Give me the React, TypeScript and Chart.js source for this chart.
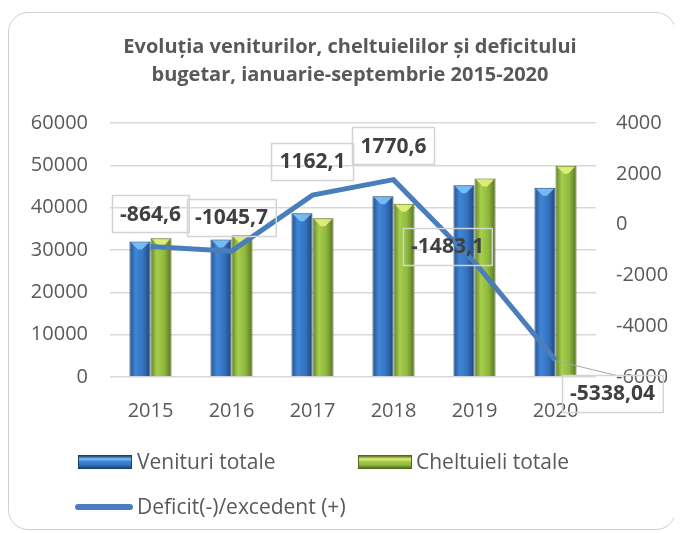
import React, { useEffect, useRef } from "react";
import { Chart, registerables } from "chart.js";

Chart.register(...registerables);

const YEARS = ["2015", "2016", "2017", "2018", "2019", "2020"];
const VENITURI = [32000, 32500, 38700, 42700, 45300, 44700];
const CHELTUIELI = [32800, 33500, 37500, 40900, 46900, 49900];
const DEFICIT = [-864.6, -1045.7, 1162.1, 1770.6, -1483.1, -5338.04];
const DEFICIT_LABELS = ["-864,6", "-1045,7", "1162,1", "1770,6", "-1483,1", "-5338,04"];
const TITLE_LINES = [
  "Evoluția veniturilor, cheltuielilor și deficitului",
  "bugetar, ianuarie-septembrie 2015-2020",
];
const SERIES_NAMES = ["Venituri totale", "Cheltuieli totale", "Deficit(-)/excedent (+)"];

// label placement (style config): offset of label box centre from the point
const LABEL_OFFSETS = [
  { dx: 0, dy: -33, leader: false },
  { dx: 0, dy: -34, leader: false },
  { dx: 0, dy: -34, leader: false },
  { dx: 0, dy: -34, leader: false },
  { dx: -27, dy: -16, leader: false },
  { dx: 57, dy: 33, leader: true },
];

const CAT_PCT = 0.52;
const FONT = "'Open Sans', 'Noto Sans', sans-serif";

const BLUE_STOPS: [number, string][] = [
  [0, "#24518c"],
  [0.3, "#3f86d8"],
  [0.65, "#3573c0"],
  [1, "#1f4678"],
];
const GREEN_STOPS: [number, string][] = [
  [0, "#62802a"],
  [0.3, "#a6cf4c"],
  [0.65, "#8fb83f"],
  [1, "#577222"],
];

function barGradient(stops: [number, string][], side: number) {
  return (c: any) => {
    const chart = c.chart;
    const xs = chart.scales && chart.scales.x;
    if (!xs || c.dataIndex === undefined || !chart.ctx) return stops[1][1];
    const cx = xs.getPixelForValue(c.dataIndex);
    const w = ((xs.right - xs.left) / YEARS.length) * CAT_PCT / 2;
    const x0 = side === 0 ? cx - w : cx;
    if (!isFinite(x0) || !isFinite(w) || w <= 0) return stops[1][1];
    const g = chart.ctx.createLinearGradient(x0, 0, x0 + w, 0);
    stops.forEach(([o, col]) => g.addColorStop(o, col));
    return g;
  };
}

const titlePlugin = {
  id: "titleLines",
  afterDraw(chart: any) {
    const ctx = chart.ctx;
    ctx.save();
    ctx.font = `bold 20px ${FONT}`;
    ctx.fillStyle = "#595959";
    ctx.textAlign = "center";
    ctx.textBaseline = "middle";
    const cx = 341;
    ctx.fillText(TITLE_LINES[0], cx, 34);
    ctx.fillText(TITLE_LINES[1], cx, 62);
    ctx.restore();
  },
};

const bevelPlugin = {
  id: "bevel",
  afterDatasetDraw(chart: any, args: any) {
    const meta = args.meta;
    if (meta.type !== "bar") return;
    const ctx = chart.ctx;
    const light = meta.index === 0 ? "#7cc2f7" : "#e4f27a";
    ctx.save();
    meta.data.forEach((bar: any) => {
      const { x, y, width } = bar.getProps(["x", "y", "width"], true);
      const l = x - width / 2 + 1.5;
      const r = x + width / 2 - 1.5;
      ctx.beginPath();
      ctx.moveTo(l, y + 1);
      ctx.lineTo(r, y + 1);
      ctx.lineTo(x + 2, y + 8);
      ctx.lineTo(x - 2, y + 8);
      ctx.closePath();
      ctx.fillStyle = light;
      ctx.globalAlpha = 0.9;
      ctx.fill();
    });
    ctx.restore();
  },
};

const labelPlugin = {
  id: "deficitLabels",
  afterDatasetsDraw(chart: any) {
    const meta = chart.getDatasetMeta(2);
    const ctx = chart.ctx;
    ctx.save();
    ctx.font = `bold 21px ${FONT}`;
    ctx.textAlign = "center";
    ctx.textBaseline = "middle";
    meta.data.forEach((pt: any, i: number) => {
      const off = LABEL_OFFSETS[i];
      const text = DEFICIT_LABELS[i];
      const cx = pt.x + off.dx;
      const cy = pt.y + off.dy;
      const tw = ctx.measureText(text).width;
      const bw = tw + 16;
      const bh = 37;
      const bx = Math.round(cx - bw / 2) + 0.5;
      const by = Math.round(cy - bh / 2) + 0.5;
      if (off.leader) {
        ctx.strokeStyle = "#a6a6a6";
        ctx.lineWidth = 1;
        ctx.beginPath();
        ctx.moveTo(pt.x + 2, pt.y + 1);
        ctx.lineTo(cx + 4, by);
        ctx.stroke();
      }
      ctx.strokeStyle = "#d4d4d4";
      ctx.lineWidth = 1.5;
      ctx.strokeRect(bx, by, bw, bh);
      ctx.fillStyle = "#404040";
      ctx.fillText(text, cx, cy + 1);
    });
    ctx.restore();
  },
};

export default function App() {
  const ref = useRef<HTMLCanvasElement>(null);

  useEffect(() => {
    document.body.style.marginBottom = "0";
    document.body.style.overflow = "hidden";
    if (!ref.current) return;
    const chart = new Chart(ref.current, {
      type: "bar",
      data: {
        labels: YEARS,
        datasets: [
          {
            type: "bar",
            label: SERIES_NAMES[0],
            data: VENITURI,
            backgroundColor: barGradient(BLUE_STOPS, 0),
            borderColor: "#1c3f6e",
            borderWidth: 1,
            yAxisID: "y",
            order: 1,
            categoryPercentage: CAT_PCT,
            barPercentage: 1,
          },
          {
            type: "bar",
            label: SERIES_NAMES[1],
            data: CHELTUIELI,
            backgroundColor: barGradient(GREEN_STOPS, 1),
            borderColor: "#4f6a1f",
            borderWidth: 1,
            yAxisID: "y",
            order: 1,
            categoryPercentage: CAT_PCT,
            barPercentage: 1,
          },
          {
            type: "line",
            label: SERIES_NAMES[2],
            data: DEFICIT,
            borderColor: "#4a7ebb",
            backgroundColor: "#4a7ebb",
            borderWidth: 5,
            pointRadius: 0,
            tension: 0,
            yAxisID: "y1",
            order: 0,
          } as any,
        ],
      },
      options: {
        animation: false,
        responsive: false,
        maintainAspectRatio: false,
        layout: { padding: { top: 110, bottom: 102, left: 0, right: 0 } },
        plugins: {
          legend: { display: false },
          title: { display: false },
          tooltip: { enabled: false },
        },
        scales: {
          x: {
            grid: { display: false },
            border: { display: false },
            ticks: { color: "#595959", font: { family: FONT, size: 20 }, padding: 14 },
            afterFit: (s: any) => {
              s.height = 50;
            },
          },
          y: {
            position: "left",
            min: 0,
            max: 60000,
            grid: { color: "#d9d9d9", lineWidth: 1.5, drawTicks: false },
            border: { display: false },
            ticks: {
              stepSize: 10000,
              color: "#595959",
              font: { family: FONT, size: 20 },
              padding: 22,
              callback: (v: any) => String(v),
            },
            afterFit: (s: any) => {
              s.width = 101;
            },
          },
          y1: {
            position: "right",
            min: -6000,
            max: 4000,
            grid: { display: false, drawTicks: false },
            border: { display: false },
            ticks: {
              stepSize: 2000,
              color: "#595959",
              font: { family: FONT, size: 20 },
              padding: 20,
              callback: (v: any) => String(v),
            },
            afterFit: (s: any) => {
              s.width = 79;
            },
          },
        },
      },
      plugins: [titlePlugin, bevelPlugin, labelPlugin],
    });
    return () => chart.destroy();
  }, []);

  const legendText: React.CSSProperties = {
    position: "absolute",
    fontFamily: FONT,
    fontSize: 21,
    color: "#595959",
    lineHeight: "26px",
    whiteSpace: "nowrap",
  };

  return (
    <div
      style={{
        position: "relative",
        marginTop: 4,
        width: 666,
        height: 516,
        border: "1px solid #d0d0d0",
        borderRadius: 20,
        background: "#fff",
        overflow: "hidden",
      }}
    >
      <canvas ref={ref} width={666} height={516} style={{ position: "absolute", left: 0, top: 0 }} />
      <div
        style={{
          position: "absolute",
          left: 69,
          top: 442,
          width: 54,
          height: 14,
          boxSizing: "border-box",
          border: "1px solid #1c3f6e",
          background: "linear-gradient(to bottom, #1f4678 0%, #7cc2f7 25%, #3f86d8 45%, #3573c0 75%, #1f4678 100%)",
        }}
      />
      <div style={{ ...legendText, left: 128, top: 435 }}>{SERIES_NAMES[0]}</div>
      <div
        style={{
          position: "absolute",
          left: 349,
          top: 442,
          width: 54,
          height: 14,
          boxSizing: "border-box",
          border: "1px solid #4f6a1f",
          background: "linear-gradient(to bottom, #577222 0%, #e4f27a 25%, #a6cf4c 45%, #8fb83f 75%, #577222 100%)",
        }}
      />
      <div style={{ ...legendText, left: 407, top: 435 }}>{SERIES_NAMES[1]}</div>
      <div
        style={{
          position: "absolute",
          left: 66,
          top: 491,
          width: 58,
          height: 6,
          borderRadius: 3,
          background: "#4a7ebb",
        }}
      />
      <div style={{ ...legendText, left: 128, top: 480 }}>{SERIES_NAMES[2]}</div>
    </div>
  );
}
